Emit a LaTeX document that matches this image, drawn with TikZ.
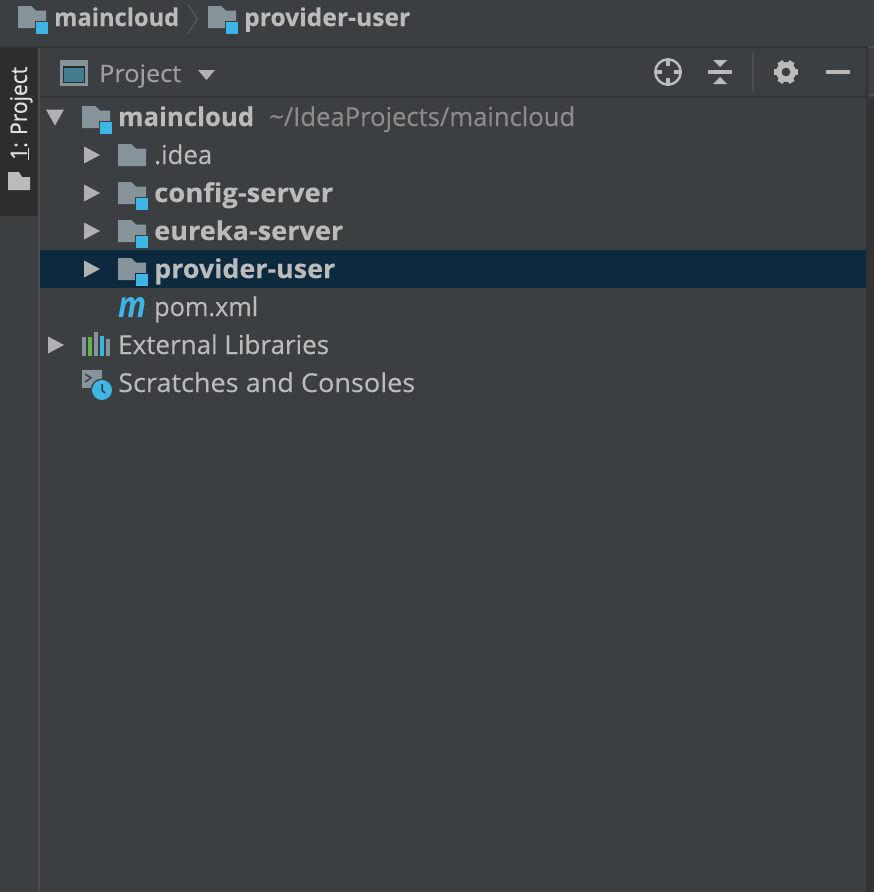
\documentclass[tikz,border=0pt]{standalone}
\usepackage{graphicx}
\usepackage{fontspec}
\setmainfont{Open Sans}[FakeBold=0.2,BoldFeatures={FakeBold=0.2},BoldItalicFeatures={FakeBold=0}]
\newfontfamily\tabf[FakeBold=0.6]{Open Sans}
\definecolor{bgc}{HTML}{3C3F41}
\definecolor{linec}{HTML}{323232}
\definecolor{sidec}{HTML}{2C2D2F}
\definecolor{sepc}{HTML}{4B4D4F}
\definecolor{edgec}{HTML}{313335}
\definecolor{selc}{HTML}{0D293E}
\definecolor{foldc}{HTML}{87939A}
\definecolor{bluec}{HTML}{3DB5E5}
\definecolor{txtc}{HTML}{BBBBBB}
\definecolor{dimc}{HTML}{8C8C8C}
\definecolor{triC}{HTML}{AFB1B3}
\definecolor{greenc}{HTML}{62B543}
\newcommand{\fitw}[2]{\resizebox{#1pt}{\height}{#2}}
\tikzset{
  x=1pt,y=-1pt,
  lbl/.style={anchor=base west,inner sep=0pt,text=txtc,font=\fontsize{26}{26}\selectfont},
  blbl/.style={anchor=base west,inner sep=0pt,text=txtc,font=\fontsize{26}{26}\selectfont\bfseries},
  clbl/.style={anchor=base west,inner sep=0pt,text=txtc,font=\fontsize{24.5}{25}\selectfont\bfseries},
  dim/.style={anchor=base west,inner sep=0pt,text=dimc,font=\fontsize{26}{26}\selectfont},
  folder/.pic={\fill[foldc] (0,0)--(13.5,0)--(18,4.5)--(28,4.5)--(28,22)--(0,22)--cycle;},
  module/.pic={\fill[foldc] (0,0)--(13.5,0)--(18,4.5)--(28,4.5)--(28,22)--(0,22)--cycle;
    \fill[bgc] (17,15)rectangle(31,29);
    \fill[bluec] (18,16)rectangle(30,28);},
  modulesel/.pic={\fill[foldc] (0,0)--(13.5,0)--(18,4.5)--(28,4.5)--(28,22)--(0,22)--cycle;
    \fill[selc] (17,15)rectangle(31,29);
    \fill[bluec] (18,16)rectangle(30,28);},
  tri r/.pic={\fill[triC] (0,0)--(16,8.5)--(0,17)--cycle;},
  tri d/.pic={\fill[triC] (0,0)--(18,0)--(9,16)--cycle;},
}
\begin{document}
\begin{tikzpicture}
\useasboundingbox (0,0) rectangle (874,892);
\fill[bgc] (0,0) rectangle (874,892);
% breadcrumb
\fill[linec] (0,46) rectangle (868,47.5);
\fill[sepc] (868,46) rectangle (874,47.5);
\pic at (18,6) {module};
\node[clbl] (crumbA) at (54,26) {\fitw{125}{maincloud}};
\draw[sepc!90!white,line width=1pt] (188,4.5)--(197.5,19)--(188,33.5);
\pic at (208,6) {module};
\node[clbl] (crumbB) at (244,26) {\fitw{166}{provider-user}};
% side tab
\fill[sidec] (0,47.5) rectangle (38,216);
\fill[sepc] (38,47.5) rectangle (40,892);
\node[anchor=base west,rotate=90,inner sep=0pt,text=white!88!black,font=\fontsize{23}{23}\tabf] (tab) at (27,160) {\fitw{93}{\underline{1}: Project}};
\fill[txtc] (8,172)--(19,172)--(22,177)--(30,177)--(30,190)--(8,190)--cycle;
% toolbar
\fill[linec] (40,96) rectangle (868,98);
\fill[linec] (866,47.5) rectangle (868,97);
\fill[sepc] (868,94) rectangle (874,96);
\fill[sepc] (752,52) rectangle (754,92);
\fill[foldc] (60,60) rectangle (88,86);
\fill[bgc!70!black] (63,66) rectangle (85,83);
\fill[bluec!55!black!85!white] (64,68) rectangle (84,82);
\node[lbl,text=txtc!85!black,font=\fontsize{24}{24}\selectfont] (proj) at (99,82) {\fitw{82}{Project}};
\fill[triC] (198,70)--(215,70)--(206.5,80)--cycle;
\draw[txtc,line width=2.5pt] (668,72) circle (12.7);
\draw[txtc,line width=3.5pt] (668,58.5)--(668,66) (668,78)--(668,85.5) (654.5,72)--(662,72) (674,72)--(681.5,72);
\fill[txtc] (708,70)rectangle(732,74);
\fill[txtc] (713,60)--(727,60)--(720,67)--cycle (713,84)--(727,84)--(720,77)--cycle;
\foreach \a in {30,90,...,330}{\fill[txtc,rotate around={\a:(786,72)}] (783,60) rectangle (789,67);}
\fill[txtc,even odd rule] (786,72) circle (10) (786,72) circle (4.5);
\fill[txtc] (826,69.5) rectangle (850,74);
% right edge
\fill[edgec] (866,98) rectangle (874,892);
% selection
\fill[selc] (40,250) rectangle (866,288);
% tree
\pic at (46,109.5) {tri d};
\pic at (82,106) {module};
\node[blbl] (root) at (118,126) {\fitw{136}{maincloud}};
\node[dim] (path) at (269,126) {\fitw{306}{\textasciitilde/IdeaProjects/maincloud}};
\pic at (84,146.5) {tri r};
\pic at (118,144) {folder};
\node[lbl] (idea) at (154,164) {\fitw{58}{.idea}};
\pic at (84,184.5) {tri r};
\pic at (118,182) {module};
\node[blbl] (cfg) at (154,202) {\fitw{179}{config-server}};
\pic at (84,222.5) {tri r};
\pic at (118,220) {module};
\node[blbl] (eur) at (154,240) {\fitw{189}{eureka-server}};
\pic at (84,260.5) {tri r};
\pic at (118,258) {modulesel};
\node[blbl] (prov) at (154,278) {\fitw{181}{provider-user}};
\node[anchor=base west,inner sep=0pt,text=bluec,font=\fontsize{36}{36}\selectfont\bfseries\itshape] (m) at (118,317) {\fitw{28}{m}};
\node[lbl] (pom) at (154,316) {\fitw{104}{pom.xml}};
\pic at (48,336.5) {tri r};
\fill[foldc] (82,337) rectangle (86,356);
\fill[greenc] (88,337) rectangle (92,356);
\fill[foldc] (94,332) rectangle (98,356);
\fill[bluec] (100,336) rectangle (104,356);
\fill[foldc] (106,339) rectangle (110,356);
\node[lbl] (ext) at (118,354) {\fitw{211}{External Libraries}};
\fill[foldc] (82,370) rectangle (102,388);
\draw[bgc,line width=1.5pt] (85,374)--(91,378)--(85,382);
\fill[bgc] (102,390) circle (11.5);
\fill[bluec] (102,390) circle (10);
\draw[bgc,line width=1.5pt] (102,384)--(102,390)--(105,393);
\node[lbl] (scr) at (118,392) {\fitw{297}{Scratches and Consoles}};
\end{tikzpicture}
\end{document}
